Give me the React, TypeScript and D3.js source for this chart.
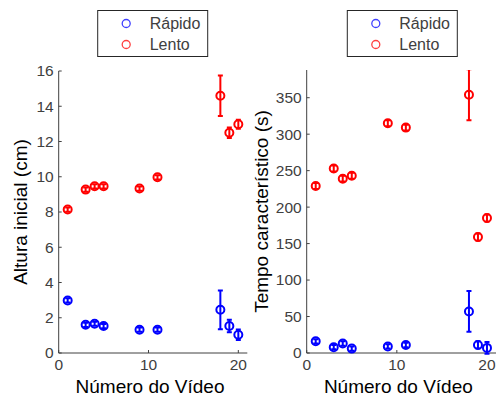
import React from "react";
import * as d3 from "d3";

// Video numbers (shared by every series)
const videos = [1, 3, 4, 5, 9, 11, 18, 19, 20];

// Initial height (cm)
const alturaRapido = [2.98, 1.6, 1.66, 1.53, 1.32, 1.32, 2.45, 1.53, 1.04];
const alturaRapidoErr = [0.12, 0.12, 0.12, 0.12, 0.12, 0.12, 1.1, 0.35, 0.3];
const alturaLento = [8.14, 9.27, 9.46, 9.46, 9.33, 9.97, 14.6, 12.5, 12.98];
const alturaLentoErr = [0.12, 0.12, 0.12, 0.12, 0.12, 0.12, 1.15, 0.3, 0.25];

// Characteristic time (s)
const tempoRapido = [16, 8, 13, 6, 9, 11, 57, 11, 7];
const tempoRapidoErr = [3, 3, 3, 3, 3, 3, 28, 5, 8];
const tempoLento = [229, 253, 239, 243, 315, 309, 354, 159, 185];
const tempoLentoErr = [4, 4, 4, 4, 4, 4, 35, 5, 5];

const xTicks = [0, 10, 20];
const alturaTicks = [0, 2, 4, 6, 8, 10, 12, 14, 16];
const tempoTicks = [0, 50, 100, 150, 200, 250, 300, 350];
const legendLabels = ["Rápido", "Lento"];

const BLUE = "#0000ff";
const RED = "#ff0000";
const AXIS = "#404040";
const FONT = "'Liberation Sans', Arial, sans-serif";

type Series = { values: number[]; errs: number[]; color: string };

function Panel(props: {
  x0: number;
  x1: number;
  yTop: number;
  yBottom: number;
  yMax: number;
  yTicks: number[];
  yLabel: string;
  yLabelX: number;
  series: Series[];
  legendX: number;
}) {
  const { x0, x1, yTop, yBottom, yMax, yTicks, yLabel, yLabelX, series, legendX } = props;
  const x = d3.scaleLinear().domain([0, 21]).range([x0, x1]);
  const y = d3.scaleLinear().domain([0, yMax]).range([yBottom, yTop]);
  const clipId = `clip-${Math.round(x0)}`;
  const cap = 2.5;
  return (
    <g>
      <defs>
        <clipPath id={clipId}>
          <rect x={x0 - 10} y={yTop} width={x1 - x0 + 20} height={yBottom - yTop + 10} />
        </clipPath>
      </defs>
      {/* axes */}
      <line x1={x0} x2={x0} y1={yTop} y2={yBottom} stroke={AXIS} strokeWidth={1} />
      <line x1={x0} x2={x1} y1={yBottom} y2={yBottom} stroke={AXIS} strokeWidth={1} />
      {yTicks.map((t) => (
        <g key={`y${t}`}>
          <line x1={x0} x2={x0 + 3} y1={y(t)} y2={y(t)} stroke={AXIS} />
          <text
            x={x0 - 5}
            y={y(t)}
            dy="0.35em"
            textAnchor="end"
            fontSize={15.5}
            fill={AXIS}
            fontFamily={FONT}
          >
            {t}
          </text>
        </g>
      ))}
      {xTicks.map((t) => (
        <g key={`x${t}`}>
          <line x1={x(t)} x2={x(t)} y1={yBottom} y2={yBottom - 3} stroke={AXIS} />
          <text
            x={x(t)}
            y={yBottom + 17}
            textAnchor="middle"
            fontSize={15.5}
            fill={AXIS}
            fontFamily={FONT}
          >
            {t}
          </text>
        </g>
      ))}
      <text
        x={(x0 + x1) / 2 - 3}
        y={yBottom + 40}
        textAnchor="middle"
        fontSize={19}
        fill="#000"
        fontFamily={FONT}
      >
        Número do Vídeo
      </text>
      <text
        transform={`translate(${yLabelX},${(yTop + yBottom) / 2}) rotate(-90)`}
        textAnchor="middle"
        fontSize={19}
        fill="#000"
        fontFamily={FONT}
      >
        {yLabel}
      </text>
      {/* data with error bars */}
      <g clipPath={`url(#${clipId})`}>
        {series.map((s, si) =>
          videos.map((v, i) => {
            const cx = x(v);
            const lo = y(s.values[i] - s.errs[i]);
            const hi = y(s.values[i] + s.errs[i]);
            return (
              <g key={`${si}-${i}`} stroke={s.color} strokeWidth={2} fill="none">
                <line x1={cx} x2={cx} y1={lo} y2={hi} />
                <line x1={cx - cap} x2={cx + cap} y1={lo} y2={lo} />
                <line x1={cx - cap} x2={cx + cap} y1={hi} y2={hi} />
                <circle cx={cx} cy={y(s.values[i])} r={4} />
              </g>
            );
          })
        )}
      </g>
      {/* legend */}
      <rect x={legendX} y={10.5} width={110} height={46} fill="#fff" stroke="#262626" strokeWidth={1} />
      {legendLabels.map((lab, i) => (
        <g key={lab}>
          <circle
            cx={legendX + 28.5}
            cy={23.5 + i * 21}
            r={4}
            fill="none"
            stroke={series[i].color}
            strokeOpacity={0.75}
            strokeWidth={1.3}
          />
          <text
            x={legendX + 52}
            y={23.5 + i * 21}
            dy="0.35em"
            fontSize={16}
            fill={AXIS}
            fontFamily={FONT}
          >
            {lab}
          </text>
        </g>
      ))}
    </g>
  );
}

export default function App() {
  return (
    <svg width={497} height={398} style={{ position: "absolute", left: 0, top: 0, background: "#fff" }}>
      <rect width={497} height={398} fill="#fff" />
      <Panel
        x0={58.7}
        x1={247.3}
        yTop={71}
        yBottom={353}
        yMax={16}
        yTicks={alturaTicks}
        yLabel="Altura inicial (cm)"
        yLabelX={27}
        series={[
          { values: alturaRapido, errs: alturaRapidoErr, color: BLUE },
          { values: alturaLento, errs: alturaLentoErr, color: RED },
        ]}
        legendX={97.7}
      />
      <Panel
        x0={306.7}
        x1={496}
        yTop={70}
        yBottom={353}
        yMax={388}
        yTicks={tempoTicks}
        yLabel="Tempo característico (s)"
        yLabelX={268}
        series={[
          { values: tempoRapido, errs: tempoRapidoErr, color: BLUE },
          { values: tempoLento, errs: tempoLentoErr, color: RED },
        ]}
        legendX={347.3}
      />
    </svg>
  );
}
